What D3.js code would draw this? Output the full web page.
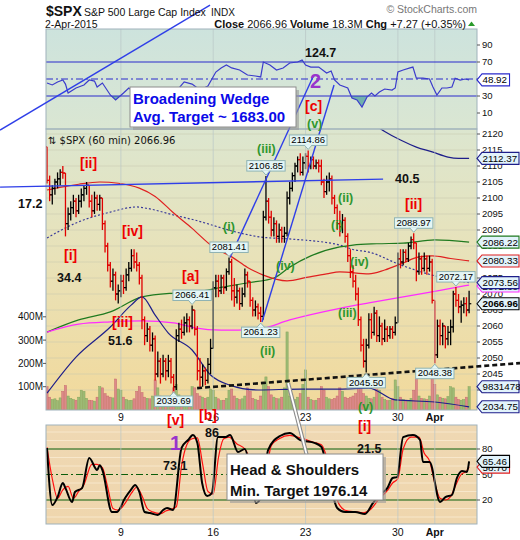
<!DOCTYPE html>
<html><head><meta charset="utf-8">
<script src="https://cdn.jsdelivr.net/npm/d3@7/dist/d3.min.js"></script>
<style>
body{margin:0;background:#fff;}
svg{display:block;font-family:"Liberation Sans",Arial,sans-serif;}
</style></head><body>
<svg id="chart" width="520" height="540"></svg>
<script>
// ================= DATA =================
const days = ["Mar 3","Mar 4","Mar 5","Mar 6","Mar 9","Mar 10","Mar 11","Mar 12","Mar 13","Mar 16","Mar 17","Mar 18","Mar 19","Mar 20","Mar 23","Mar 24","Mar 25","Mar 26","Mar 27","Mar 30","Mar 31","Apr 1","Apr 2"];
const barsPerDay = 7;
const weekTicks = [{day:4,label:"9"},{day:9,label:"16"},{day:14,label:"23"},{day:19,label:"30"},{day:21,label:"Apr",bold:true}];
const priceTicks = [2040,2045,2050,2055,2060,2065,2070,2075,2080,2085,2090,2095,2100,2105,2110,2115,2120];
const rsiTicks = [10,30,50,70,90];
const oscTicks = [20,50,80];
const volTicks = [100,200,300,400];

const firstOpen = 2116;
const high = [
2116,2107,2104,2106,2108,2109,2110,
2107,2097,2099,2101,2100,2101,2103,
2104,2105,2104,2101,2102,2101,2101,
2100,2093,2086,2080,2078,2077,2073,
2076,2076,2078,2080,2084,2084,2083,
2080,2076,2063,2061,2060,2058,2057,
2052,2050,2051,2050,2051,2050,2045,
2059,2061,2062,2063,2064,2063,2066.41,
2065,2060,2050,2048,2047,2050,2056,
2074,2076,2076,2076,2076,2078,2081.41,
2081,2075,2073,2072,2072,2078,2077,
2074,2069,2068,2067,2066,2096,2106.85,
2100,2096,2094,2093,2092,2091,2091,
2102,2105,2108,2111,2113,2114,2113,
2114,2114.86,2113,2113,2112,2112,2112,
2106,2107,2108,2107,2101,2098,2096,
2095,2094,2089,2084,2079,2076,2072,
2063,2056,2056,2064,2064,2066,2065,
2063,2061,2062,2060,2060,2060,2063,
2083,2084,2084,2084,2086,2088,2088.97,
2086,2083,2082,2083,2082,2082,2081,
2067,2062,2062,2061,2060,2060,2062,
2071,2072.17,2070,2068,2069,2069,2071];
const low = [
2104.5,2099,2098,2101,2103,2104,2106,
2088,2090,2093,2095,2094,2095,2097,
2099,2101,2097,2094,2095,2096,2096,
2090,2083,2077,2072,2071,2068,2067,
2069,2070,2071,2074,2077,2078,2077,
2073,2059,2054,2055,2052,2052,2043,
2044,2042,2044,2043,2044,2042,2039.69,
2040,2055,2056,2057,2058,2058,2059,
2057,2043,2041,2041,2041.5,2042,2045,
2055,2069,2069,2070,2070,2071,2076,
2068,2066,2067,2065,2066,2069,2072,
2066,2063,2063,2062,2061.23,2062,2093,
2092,2088,2088,2086,2086,2086,2086,
2088,2098,2102,2105,2108,2107,2107,
2109,2108,2109,2109,2109,2108,2104,
2100,2101,2102,2098,2095,2090,2088,
2089,2086,2080,2075,2072,2068,2060,
2052,2047,2045.5,2053,2056,2057,2055,
2055,2054,2055,2055,2056,2056,2057,
2063,2078,2079,2080,2080,2084,2084,
2074,2076,2076,2077,2076,2077,2067,
2048.38,2050,2054,2054,2053,2054,2054,
2058,2066,2064,2061,2064,2063,2064];
const close = [
2105.5,2101,2103,2105,2106,2108,2107.8,
2092,2095,2097,2099,2096,2099,2101,
2103,2104,2099,2096,2100,2098,2100,
2092,2085,2079,2074,2076,2070,2071,
2074,2072,2076,2078,2082,2080,2079,
2075,2062,2057,2059,2054,2056,2045,
2049,2045,2049,2046,2049,2044,2041,
2057,2059,2058,2061,2062,2060,2065,
2059,2046,2044,2046,2043,2048,2053,
2072,2074,2071,2075,2072,2077,2080,
2071,2069,2071,2067,2070,2076,2074,
2068,2065,2066,2064,2063,2094,2099,
2094,2090,2092,2088,2090,2088,2089,
2100,2103,2107,2110,2112,2108,2111,
2113,2110,2112,2110,2111,2110,2105,
2102,2105,2106,2100,2097,2092,2091,
2093,2088,2082,2077,2074,2070,2062,
2054,2049,2054,2062,2058,2064,2057,
2060,2056,2059,2057,2059,2058,2061,
2081,2080,2083,2081,2085,2087,2086,
2077,2081,2078,2081,2078,2080,2068,
2051,2060,2057,2060,2056,2058,2059.7,
2070,2068,2066,2066.5,2067,2065,2066.96];
// volume, millions
const volume = [
100,55,45,48,40,52,80,
105,60,50,45,42,55,85,
80,50,42,40,38,55,100,
95,70,60,55,52,133,90,
85,55,45,40,42,48,80,
100,75,55,50,48,60,129,
95,60,50,45,48,55,95,
110,65,55,48,45,55,100,
95,70,60,55,50,55,90,
85,55,48,40,42,50,85,
90,60,50,45,48,60,95,
80,50,45,42,60,120,142,
100,65,55,50,48,55,95,
335,60,50,45,55,70,110,
172,55,45,40,42,50,100,
85,55,48,45,50,60,95,
80,55,50,55,60,70,110,
105,70,60,50,48,55,90,
85,55,45,40,42,50,129,
100,55,45,42,40,50,85,
138,60,50,48,45,60,142,
110,65,55,50,48,58,100,
95,55,45,42,45,55,100];

// overlays: [bar index, value]
const maRed = [[0,2102.5],[6,2103.5],[12,2104.3],[20,2105],[27,2104.6],[35,2103.1],[41,2100.5],[48,2095.3],[55,2090.5],[63,2084.7],[70,2081.6],[76,2078.3],[82,2075.9],[91,2074.1],[99,2075.3],[106,2076.3],[111,2076.9],[122,2076.3],[128,2077.5],[135,2079.7],[141,2081.6],[146,2081.9],[153,2081.1],[160,2080.33]];
const maGreen = [[0,2058.1],[12,2061.9],[24,2064.4],[36,2069.1],[48,2070.3],[56,2070.6],[67,2072.2],[77,2073.6],[86,2075],[92,2078.4],[100,2081.9],[111,2084.7],[116,2085.3],[125,2085.7],[135,2085.9],[147,2086.9],[160,2086.22]];
const maDotted = [[0,2087.5],[11,2092.2],[24,2095.6],[34,2097.2],[37,2096.9],[48,2094.7],[56,2093.1],[73,2089.1],[81,2087.8],[92,2087.2],[111,2085.3],[116,2083.9],[122,2083.1],[134,2079.1],[146,2075.9],[160,2073.56]];
const maMagenta = [[0,2058.1],[12,2060.6],[24,2061.3],[36,2061.6],[48,2061],[56,2059.4],[66,2058.7],[80,2059],[92,2061.9],[111,2065.5],[122,2067.2],[135,2069.1],[148,2071],[160,2072.8]];
const bandUpper = [[123,2123.5],[128,2120.8],[134,2118.1],[140,2115.9],[146,2114.4],[152,2112.8],[156,2112.4],[160,2112.37]];
const bandLower = [[0,2039],[11,2050.3],[24,2059.7],[32,2066.6],[36,2069.1],[41,2063.4],[46,2057.8],[55,2052.5],[62,2044.7],[69,2041.6],[80,2040],[96,2040.3],[111,2040.3],[122,2040.6],[132,2036.9],[147,2036.25],[160,2034.75]];

const rsi = [[0,45.3],[2,43],[4,46.5],[6,48.8],[7,44],[8,33.5],[11,39.4],[14,43],[16,48.8],[18,47.6],[19,40.6],[21,45.3],[24,31.2],[26,25.3],[29,33.5],[31,39.4],[33,34.7],[36,25.3],[39,21.8],[43,24],[47,25],[50,39.4],[52,46.5],[55,44],[58,37],[61,41.8],[64,58.2],[66,63],[68,66.5],[70,63],[73,60.6],[76,54.7],[79,53.5],[81,52.4],[82,70],[84.5,66.5],[87,60.6],[89.5,63],[92,68.8],[95,70],[96.7,72.4],[98,66.5],[100,64],[103,64],[106,57],[107.7,59.4],[109,48.8],[111,43],[114,39.4],[115.6,27.6],[117.5,25.3],[119.4,17],[121.3,28.8],[123,33.5],[124.3,30],[126,34.7],[128,38.2],[130.8,37],[132,39.4],[133,58.2],[135,60.6],[137.6,63],[138.7,64],[140,51],[142.5,51],[145,50],[146.3,40.6],[147.8,31.2],[149.7,39.4],[151.6,39.4],[153.5,40.6],[154.7,51],[156.6,48.8],[158.5,50],[160,48.92]];

const oscK = [[0,81.2],[2,14],[4,23.5],[6,40],[7,34],[9.5,17.6],[10.6,29.4],[13.3,34],[16,69.4],[19,55.3],[20,61],[21,55.3],[24.6,5.9],[26.5,5.9],[29.6,22.4],[31.8,31.8],[33.4,37.6],[35,29.4],[37,5.9],[39,4.7],[42,2.4],[44,8.2],[45.5,10.6],[47.8,8.2],[51,81.2],[53.5,90.6],[55.3,96.5],[57,87],[58.8,40],[60.7,24.7],[62.5,28.2],[64.8,94],[67.5,94],[69.4,96.5],[72.4,76.5],[75,80],[77,55.3],[79.2,16.5],[81.5,25.9],[83.8,78.8],[88.3,95.3],[92,98.8],[96,90.6],[101.6,87],[104,82.4],[107,43.5],[110,10.6],[113,5.9],[116.8,5.9],[120.5,3.5],[123.6,16.5],[126,25.9],[129,34],[131,45.9],[132.7,47],[135,94],[138.7,96.5],[141.4,90.6],[142.5,64.7],[145,64.7],[149,17.6],[151,23.5],[153.5,25.9],[155.4,45.9],[157.3,54],[159.2,53],[160,65.46]];
const oscD = [[0,82],[2,45],[4,22],[6,32],[8,36],[10,22],[12,30],[14,38],[17,62],[19,62],[21,58],[23,35],[25,10],[27,8],[30,18],[32,28],[34,35],[36,25],[38,10],[40,6],[43,4],[45,7],[47,9],[49,12],[51,60],[53,85],[55,92],[57,93],[59,62],[61,30],[63,27],[65,70],[67,92],[69,94],[72,86],[75,80],[77,66],[79,30],[81,22],[83,50],[85,84],[88,92],[92,96],[96,93],[101,88],[104,85],[107,60],[110,20],[113,8],[117,6],[120,5],[123,10],[126,22],[129,31],[131,40],[133,45],[135,80],[138,94],[141,94],[143,75],[145,66],[147,40],[149,22],[151,20],[153,24],[155,38],[157,50],[159,54],[160,58.7]];

// callouts on price extremes: [bar index, value, above?]
const callouts = [[55,2066.41,true],[69,2081.41,true],[83,2106.85,true],[99,2114.86,true],[139,2088.97,true],[155,2072.17,true],[48,2039.69,false],[81,2061.23,false],[121,2045.50,false],[147,2048.38,false]];

// trendlines in [bar index, price]
const wedgeTop = [[-17.8,2121.2],[61.8,2160.3]];
const wedgeLow = [[-17.8,2103.4],[127.4,2105.9]];
const chanA = [[69.4,2081.41],[100.8,2137.8]];
const chanB = [[81.5,2061.23],[108.8,2135.3]];
const neckline = [[56.9,2040.6],[179.3,2048.4]];

// ================= DRAW =================
const svg = d3.select('#chart');
const XL = 46, XR = 477;
const P = {top:[29,129], main:[129,410], bot:[425,524]};
const x = d3.scaleLinear().domain([0,160]).range([47,469.1]);
const y = d3.scaleLinear().domain([2045,2120]).range([374,134]);
const yR = d3.scaleLinear().domain([30,70]).range([96,62]);
const yO = d3.scaleLinear().domain([20,80]).range([500,449]);
const yV = d3.scaleLinear().domain([0,100]).range([410,386.7]);

const defs = svg.append('defs');
function grad(id, stops){
  const g = defs.append('linearGradient').attr('id',id).attr('x1',0).attr('y1',0).attr('x2',0).attr('y2',1);
  stops.forEach(s=>g.append('stop').attr('offset',s[0]).attr('stop-color',s[1]));
}
grad('gTop',[[0,'#cde3dd'],[1,'#dae6d2']]);
grad('gMain',[[0,'#dce6cf'],[0.45,'#e8e2b9'],[1,'#f2d99b']]);
grad('gBot',[[0,'#efd8b3'],[1,'#efd6ad']]);
function clip(id,t,b){ defs.append('clipPath').attr('id',id).append('rect').attr('x',XL).attr('y',t).attr('width',XR-XL).attr('height',b-t); }
clip('cTop',...P.top); clip('cMain',...P.main); clip('cBot',...P.bot);

svg.append('rect').attr('x',XL).attr('y',P.top[0]).attr('width',XR-XL).attr('height',P.top[1]-P.top[0]).attr('fill','url(#gTop)');
svg.append('rect').attr('x',XL).attr('y',P.main[0]).attr('width',XR-XL).attr('height',P.main[1]-P.main[0]).attr('fill','url(#gMain)');
svg.append('rect').attr('x',XL).attr('y',P.bot[0]).attr('width',XR-XL).attr('height',P.bot[1]-P.bot[0]).attr('fill','url(#gBot)');

// horizontal grids
const gMain = svg.append('g').attr('clip-path','url(#cMain)');
priceTicks.forEach(v=>gMain.append('line').attr('x1',XL).attr('x2',XR).attr('y1',y(v)).attr('y2',y(v)).attr('stroke','#c9c9b0').attr('stroke-opacity',0.55));
const gBot = svg.append('g').attr('clip-path','url(#cBot)');
[0,10,30,40,60,70,90,100].forEach(v=>gBot.append('line').attr('x1',XL).attr('x2',XR).attr('y1',yO(v)).attr('y2',yO(v)).attr('stroke','#f7e7cb').attr('stroke-width',1));
// vertical grids
weekTicks.forEach(t=>{
  const xx = x(t.day*barsPerDay);
  [P.top,P.main,P.bot].forEach(p=>svg.append('line').attr('x1',xx).attr('x2',xx).attr('y1',p[0]).attr('y2',p[1]).attr('stroke','#b9c6c6').attr('stroke-opacity',0.7));
});

// ----- top panel RSI -----
const gTop = svg.append('g').attr('clip-path','url(#cTop)');
defs.append('clipPath').attr('id','cLow').append('rect').attr('x',XL).attr('y',yR(30)).attr('width',XR-XL).attr('height',40);
defs.append('clipPath').attr('id','cHigh').append('rect').attr('x',XL).attr('y',P.top[0]).attr('width',XR-XL).attr('height',yR(70)-P.top[0]);
const rArea30 = d3.area().x(d=>x(d[0])).y0(yR(30)).y1(d=>yR(d[1]));
const rArea70 = d3.area().x(d=>x(d[0])).y0(yR(70)).y1(d=>yR(d[1]));
gTop.append('g').attr('clip-path','url(#cLow)').append('path').attr('d',rArea30(rsi)).attr('fill','#4f9f9f').attr('fill-opacity',0.75);
gTop.append('g').attr('clip-path','url(#cHigh)').append('path').attr('d',rArea70(rsi)).attr('fill','#4f9f9f').attr('fill-opacity',0.6);
[70,30].forEach(v=>gTop.append('line').attr('x1',XL).attr('x2',XR).attr('y1',yR(v)).attr('y2',yR(v)).attr('stroke','#2a2acc').attr('stroke-width',1.2));
gTop.append('line').attr('x1',XL).attr('x2',XR).attr('y1',yR(50)).attr('y2',yR(50)).attr('stroke','#2a2acc').attr('stroke-width',1).attr('stroke-dasharray','7,3,2,3');
gTop.append('path').attr('d',d3.line().x(d=>x(d[0])).y(d=>yR(d[1]))(rsi)).attr('fill','none').attr('stroke','#3b3bcc').attr('stroke-width',1.2);

// ----- volume -----
close.forEach((c,i)=>{
  const o = i ? close[i-1] : firstOpen;
  const up = c >= o;
  gMain.append('rect').attr('x',x(i)-1.1).attr('width',2.2).attr('y',yV(volume[i])).attr('height',yV(0)-yV(volume[i]))
    .attr('fill',up?'#9dbb75':'#dc8a8a').attr('stroke',up?'#86a55e':'#c76d6d').attr('stroke-width',0.5);
});

// ----- overlays -----
const ln = d3.line().x(d=>x(d[0])).y(d=>y(d[1])).curve(d3.curveMonotoneX);
gMain.append('path').attr('d',ln(maDotted)).attr('fill','none').attr('stroke','#3a3a9a').attr('stroke-width',1.2).attr('stroke-dasharray','2,2');
gMain.append('path').attr('d',ln(maGreen)).attr('fill','none').attr('stroke','#1f7a1f').attr('stroke-width',1.2);
gMain.append('path').attr('d',ln(maRed)).attr('fill','none').attr('stroke','#e02020').attr('stroke-width',1.2);
gMain.append('path').attr('d',ln(maMagenta)).attr('fill','none').attr('stroke','#ff2cff').attr('stroke-width',1.3);
gMain.append('path').attr('d',ln(bandUpper)).attr('fill','none').attr('stroke','#1e1e8a').attr('stroke-width',1.2);
gMain.append('path').attr('d',ln(bandLower)).attr('fill','none').attr('stroke','#1e1e8a').attr('stroke-width',1.2);

// ----- OHLC bars -----
close.forEach((c,i)=>{
  const o = i ? close[i-1] : firstOpen;
  const hi = Math.max(high[i],o,c), lo = Math.min(low[i],o,c);
  const col = c >= o ? '#000' : '#e00000';
  const xx = x(i);
  gMain.append('line').attr('x1',xx).attr('x2',xx).attr('y1',y(hi)).attr('y2',y(lo)).attr('stroke',col).attr('stroke-width',1.3);
  gMain.append('line').attr('x1',xx-2.2).attr('x2',xx).attr('y1',y(o)).attr('y2',y(o)).attr('stroke',col).attr('stroke-width',1.2);
  gMain.append('line').attr('x1',xx).attr('x2',xx+2.2).attr('y1',y(c)).attr('y2',y(c)).attr('stroke',col).attr('stroke-width',1.2);
});

// ----- bottom oscillator -----
[80,20].forEach(v=>gBot.append('line').attr('x1',XL).attr('x2',XR).attr('y1',yO(v)).attr('y2',yO(v)).attr('stroke','#0b5e0b').attr('stroke-width',1.2));
gBot.append('line').attr('x1',XL).attr('x2',XR).attr('y1',yO(50)).attr('y2',yO(50)).attr('stroke','#0b5e0b').attr('stroke-width',1).attr('stroke-dasharray','7,3,2,3');
const lo2 = d3.line().x(d=>x(d[0])).y(d=>yO(d[1])).curve(d3.curveMonotoneX);
gBot.append('path').attr('d',lo2(oscD)).attr('fill','none').attr('stroke','#ff1010').attr('stroke-width',1.2);
gBot.append('path').attr('d',lo2(oscK)).attr('fill','none').attr('stroke','#000').attr('stroke-width',2);

// panel borders
[P.top,P.main,P.bot].forEach(p=>svg.append('rect').attr('x',XL).attr('y',p[0]).attr('width',XR-XL).attr('height',p[1]-p[0]).attr('fill','none').attr('stroke','#9fb2bb'));

// ----- trendlines -----
const tl = d3.line().x(d=>x(d[0])).y(d=>y(d[1]));
[wedgeTop,wedgeLow,chanA,chanB].forEach(seg=>svg.append('path').attr('d',tl(seg)).attr('stroke','#2f3fe8').attr('stroke-width',1.4).attr('fill','none'));
svg.append('path').attr('d',tl(neckline)).attr('stroke','#111').attr('stroke-width',2.6).attr('stroke-dasharray','5,3').attr('fill','none');

// ----- callouts -----
callouts.forEach(([i,v,above])=>{
  const g = svg.append('g');
  const xx = x(i), yy = y(v);
  const h = 10.5;
  const by = above ? yy-5-h : yy+5;
  const rect = g.append('rect');
  const tri = g.append('path');
  const t = g.append('text').attr('font-size',9.5).attr('text-anchor','middle').attr('x',xx).attr('y',by+8.3).text(v.toFixed(2));
  const w = t.node().getComputedTextLength()+4;
  rect.attr('x',xx-w/2).attr('y',by).attr('width',w).attr('height',h).attr('fill','#e4f6f6').attr('stroke','#8fb3b3');
  if(above) tri.attr('d',`M${xx-4},${by+h-0.5} L${xx},${yy-1} L${xx+4},${by+h-0.5}`).attr('fill','#e4f6f6').attr('stroke','#8fb3b3');
  else tri.attr('d',`M${xx-4},${by+0.5} L${xx},${yy+1} L${xx+4},${by+0.5}`).attr('fill','#e4f6f6').attr('stroke','#8fb3b3');
});

// H&S pointer
const hs0 = [x(91.4), y(2042.2)];
svg.append('line').attr('x1',hs0[0]).attr('y1',hs0[1]).attr('x2',307).attr('y2',456).attr('stroke','#8a8a8a').attr('stroke-width',4);
svg.append('line').attr('x1',hs0[0]).attr('y1',hs0[1]).attr('x2',307).attr('y2',456).attr('stroke','#fff').attr('stroke-width',1.8);

// ----- annotation texts -----
const RED='#ee0000', GRN='#2f962f', BLK='#111', PUR='#9933cc';
const notes = [
 ['124.7',305,57,BLK,12.5],['2',310,88,PUR,20],['[c]',305,111,RED,14],['(v)',307,128,GRN,12.5],
 ['[ii]',80,168,RED,14],['17.2',18,208,BLK,12.5],['[iv]',122,236,RED,14],['(i)',223,231,GRN,12.5],
 ['[i]',64,260,RED,14],['34.4',57,282,BLK,12.5],['[a]',182,281,RED,14],['[iii]',112,327,RED,14],
 ['51.6',108,345,BLK,12.5],['(iii)',257,153,GRN,12.5],['(iv)',276,270,GRN,12.5],['(ii)',260,355,GRN,12.5],
 ['(ii)',338,202,GRN,12.5],['(i)',331,229,GRN,12.5],['(iv)',350,266,GRN,12.5],['(iii)',338,317,GRN,12.5],
 ['(v)',358,411,GRN,12.5],['40.5',395,183,BLK,12.5],['[ii]',405,209,RED,14],['[v]',167,425,RED,14],
 ['[b]',199,420,RED,14],['1',170,450,PUR,20],['86',205,437,BLK,12.5],['73.1',163,470,BLK,12.5],
 ['[i]',358,431,RED,14],['21.5',357,453,BLK,12.5]
];

// ----- boxes -----
function box(x0,y0,w,h,lines,color){
  svg.append('rect').attr('x',x0+3).attr('y',y0+3).attr('width',w).attr('height',h).attr('fill','#9a9a9a').attr('opacity',0.6);
  svg.append('rect').attr('x',x0).attr('y',y0).attr('width',w).attr('height',h).attr('fill','#fff').attr('stroke','#8c8c8c');
  lines.forEach(l=>svg.append('text').attr('x',x0+3).attr('y',l[1]).attr('font-size',15).attr('font-weight','bold').attr('fill',color).text(l[0]));
}

// ----- axes labels -----
const ax = svg.append('g').attr('font-size',9.5).attr('fill','#111');
priceTicks.filter(v=>v>=2040).forEach(v=>{
  ax.append('line').attr('x1',XR).attr('x2',XR+3).attr('y1',y(v)).attr('y2',y(v)).attr('stroke','#555');
  ax.append('text').attr('x',XR+5).attr('y',y(v)+3.4).text(v);
});
rsiTicks.forEach(v=>{
  ax.append('line').attr('x1',XR).attr('x2',XR+3).attr('y1',yR(v)).attr('y2',yR(v)).attr('stroke','#555');
  ax.append('text').attr('x',XR+5).attr('y',yR(v)+3.4).text(v);
});
oscTicks.forEach(v=>{
  ax.append('line').attr('x1',XR).attr('x2',XR+3).attr('y1',yO(v)).attr('y2',yO(v)).attr('stroke','#555');
  ax.append('text').attr('x',XR+5).attr('y',yO(v)+3.4).text(v);
});
volTicks.forEach(v=>{
  ax.append('line').attr('x1',XL-3).attr('x2',XL).attr('y1',yV(v)).attr('y2',yV(v)).attr('stroke','#555');
  ax.append('text').attr('x',XL-3).attr('y',yV(v)+3.4).attr('text-anchor','end').attr('font-size',10).text(v+'M');
});
weekTicks.forEach(t=>{
  const xx = x(t.day*barsPerDay);
  [421,536].forEach(yy=>ax.append('text').attr('x',xx).attr('y',yy).attr('text-anchor','middle').attr('font-size',10.5).attr('font-weight',t.bold?'bold':'normal').text(t.label));
});

notes.forEach(n=>svg.append('text').attr('x',n[1]).attr('y',n[2]).attr('fill',n[3]).attr('font-size',n[4]).attr('font-weight','bold').text(n[0]));
box(130,87,166,40,[['Broadening Wedge',104],['Avg. Target ~ 1683.00',122]],'#0a0ae8');
box(227,454,156,46,[['Head & Shoulders',475],['Min. Target 1976.14',496]],'#111');

// ----- value tags -----
function tag(yy,txt,stroke,fill,bold){
  const g = svg.append('g');
  const path = g.append('path');
  const t = g.append('text').attr('font-size',9.8).attr('font-weight',bold?'bold':'normal').attr('fill','#000').text(txt);
  const w = t.node().getComputedTextLength();
  const x0 = XR, x1 = Math.min(519, x0+5+w+3);
  path.attr('d',`M${x0},${yy} L${x0+5},${yy-6} L${x1},${yy-6} L${x1},${yy+6} L${x0+5},${yy+6}Z`).attr('fill',fill).attr('stroke',stroke).attr('stroke-width',1.1);
  t.attr('x',x0+5.5).attr('y',yy+3.5);
}
const last = a => a[a.length-1][1];
tag(yR(last(rsi)), last(rsi).toFixed(2), '#2a2acc', '#ffffff');
tag(y(last(bandUpper)), last(bandUpper).toFixed(2), '#1e1e8a', '#e2f3fb');
tag(y(last(maGreen)), last(maGreen).toFixed(2), '#1f7a1f', '#e2f3fb');
tag(y(last(maRed)), last(maRed).toFixed(2), '#e02020', '#e2f3fb');
tag(y(last(maMagenta))+1, last(maMagenta).toFixed(2), '#ff2cff', '#e2f3fb');
tag(y(last(maDotted)), last(maDotted).toFixed(2), '#1e1e8a', '#e2f3fb');
tag(y(close[160]), close[160].toFixed(2), '#000', '#e2f3fb', true);
tag(yV(volume[160]), '9831478', '#1e1e8a', '#e2f3fb');
tag(y(last(bandLower)), last(bandLower).toFixed(2), '#1e1e8a', '#e2f3fb');
tag(yO(last(oscD)), last(oscD).toFixed(2), '#e02020', '#e2f3fb');
tag(yO(last(oscK)), last(oscK).toFixed(2), '#000', '#e2f3fb');

// ----- header -----
const hd = svg.append('g').attr('fill','#111');
hd.append('text').attr('x',46).attr('y',16).attr('font-size',14).attr('font-weight','bold').text('$SPX');
hd.append('text').attr('x',84).attr('y',16).attr('font-size',10.5).text('S&P 500 Large Cap Index');
hd.append('text').attr('x',211).attr('y',16).attr('font-size',10).text('INDX');
hd.append('text').attr('x',477).attr('y',13).attr('font-size',10.5).attr('text-anchor','end').attr('fill','#777').text('© StockCharts.com');
hd.append('text').attr('x',45).attr('y',27.5).attr('font-size',10.5).text('2-Apr-2015');
const cl = hd.append('text').attr('x',466).attr('y',27.5).attr('font-size',11).attr('text-anchor','end');
cl.append('tspan').attr('font-weight','bold').text('Close ');
cl.append('tspan').text('2066.96 ');
cl.append('tspan').attr('font-weight','bold').text('Volume ');
cl.append('tspan').text('18.3M ');
cl.append('tspan').attr('font-weight','bold').text('Chg ');
cl.append('tspan').text('+7.27 (+0.35%)');
svg.append('path').attr('d','M468,26 L471.5,21.5 L475,26Z').attr('fill','#2a9a2a');
svg.append('text').attr('x',48).attr('y',144).attr('font-size',10).attr('font-family','DejaVu Sans').attr('fill','#111').text('⇅ $SPX (60 min) 2066.96');
</script>
</body></html>
